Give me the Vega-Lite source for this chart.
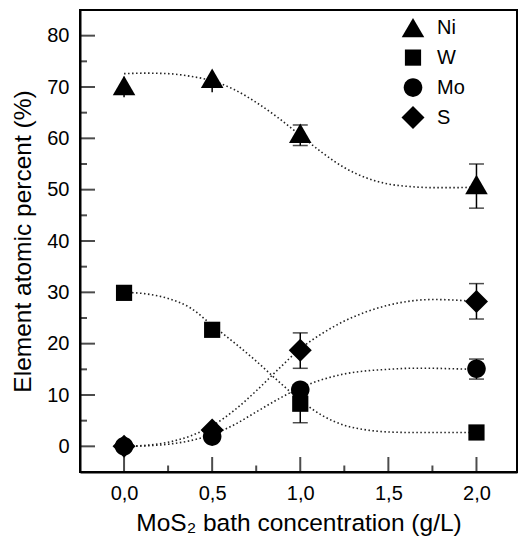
{
  "$schema": "https://vega.github.io/schema/vega-lite/v6.json",
  "width": 437,
  "height": 462,
  "autosize": {"type": "none"},
  "padding": {"left": 80, "top": 10, "right": 1, "bottom": 69},
  "background": "white",
  "config": {
    "view": {"stroke": "black", "strokeWidth": 2},
    "font": "Liberation Sans",
    "axis": {
      "domainColor": "black", "domainWidth": 2,
      "tickColor": "black", "tickWidth": 2,
      "labelColor": "black", "titleColor": "black",
      "labelFontSize": 20, "titleFontSize": 24.5,
      "titleFontWeight": "normal", "grid": false
    }
  },
  "resolve": {"axis": {"x": "independent", "y": "independent"}},
  "datasets": {
    "pts": [
      {"el": "Ni", "x": 0, "y": 70.3, "lo": 68.0, "hi": 72.0},
      {"el": "Ni", "x": 0.5, "y": 71.7, "lo": 69.0, "hi": 73.0},
      {"el": "Ni", "x": 1, "y": 61.0, "lo": 58.6, "hi": 62.6},
      {"el": "Ni", "x": 2, "y": 51.0, "lo": 46.4, "hi": 55.0},
      {"el": "W", "x": 0, "y": 29.9},
      {"el": "W", "x": 0.5, "y": 22.7},
      {"el": "W", "x": 1, "y": 8.3, "lo": 4.6, "hi": 11.5},
      {"el": "W", "x": 2, "y": 2.7},
      {"el": "Mo", "x": 0, "y": 0},
      {"el": "Mo", "x": 0.5, "y": 1.9},
      {"el": "Mo", "x": 1, "y": 11.0, "lo": 10.0, "hi": 12.0},
      {"el": "Mo", "x": 2, "y": 15.1, "lo": 13.1, "hi": 17.0},
      {"el": "S", "x": 0, "y": 0},
      {"el": "S", "x": 0.5, "y": 3.2},
      {"el": "S", "x": 1, "y": 18.7, "lo": 15.2, "hi": 22.1},
      {"el": "S", "x": 2, "y": 28.2, "lo": 24.8, "hi": 31.7}
    ],
    "curves": [
      {"el": "Ni", "x": 0, "y": 72.6}, {"el": "Ni", "x": 0.125, "y": 72.7}, {"el": "Ni", "x": 0.25, "y": 72.6},
      {"el": "Ni", "x": 0.375, "y": 72.1}, {"el": "Ni", "x": 0.5, "y": 71.2}, {"el": "Ni", "x": 0.625, "y": 69.5},
      {"el": "Ni", "x": 0.75, "y": 67.0}, {"el": "Ni", "x": 0.875, "y": 64.0}, {"el": "Ni", "x": 1.0, "y": 60.6},
      {"el": "Ni", "x": 1.125, "y": 57.2}, {"el": "Ni", "x": 1.25, "y": 54.3}, {"el": "Ni", "x": 1.375, "y": 52.3},
      {"el": "Ni", "x": 1.5, "y": 51.1}, {"el": "Ni", "x": 1.625, "y": 50.6}, {"el": "Ni", "x": 1.75, "y": 50.4},
      {"el": "Ni", "x": 1.875, "y": 50.4}, {"el": "Ni", "x": 2.0, "y": 50.5},
      {"el": "W", "x": 0, "y": 30.0}, {"el": "W", "x": 0.125, "y": 29.7}, {"el": "W", "x": 0.25, "y": 28.8},
      {"el": "W", "x": 0.375, "y": 27.0}, {"el": "W", "x": 0.5, "y": 23.6}, {"el": "W", "x": 0.625, "y": 20.2},
      {"el": "W", "x": 0.75, "y": 16.6}, {"el": "W", "x": 0.875, "y": 12.7}, {"el": "W", "x": 1.0, "y": 9.0},
      {"el": "W", "x": 1.125, "y": 6.0}, {"el": "W", "x": 1.25, "y": 4.1}, {"el": "W", "x": 1.375, "y": 3.2},
      {"el": "W", "x": 1.5, "y": 2.8}, {"el": "W", "x": 1.625, "y": 2.7}, {"el": "W", "x": 1.75, "y": 2.7},
      {"el": "W", "x": 1.875, "y": 2.7}, {"el": "W", "x": 2.0, "y": 2.7},
      {"el": "Mo", "x": 0, "y": 0}, {"el": "Mo", "x": 0.125, "y": 0.1}, {"el": "Mo", "x": 0.25, "y": 0.4},
      {"el": "Mo", "x": 0.375, "y": 1.1}, {"el": "Mo", "x": 0.5, "y": 2.3}, {"el": "Mo", "x": 0.625, "y": 4.2},
      {"el": "Mo", "x": 0.75, "y": 6.7}, {"el": "Mo", "x": 0.875, "y": 9.2}, {"el": "Mo", "x": 1.0, "y": 11.4},
      {"el": "Mo", "x": 1.125, "y": 13.0}, {"el": "Mo", "x": 1.25, "y": 14.1}, {"el": "Mo", "x": 1.375, "y": 14.7},
      {"el": "Mo", "x": 1.5, "y": 15.0}, {"el": "Mo", "x": 1.625, "y": 15.2}, {"el": "Mo", "x": 1.75, "y": 15.2},
      {"el": "Mo", "x": 1.875, "y": 15.1}, {"el": "Mo", "x": 2.0, "y": 15.0},
      {"el": "S", "x": 0, "y": 0}, {"el": "S", "x": 0.125, "y": 0.2}, {"el": "S", "x": 0.25, "y": 0.8},
      {"el": "S", "x": 0.375, "y": 2.0}, {"el": "S", "x": 0.5, "y": 4.0}, {"el": "S", "x": 0.625, "y": 7.0},
      {"el": "S", "x": 0.75, "y": 10.8}, {"el": "S", "x": 0.875, "y": 15.0}, {"el": "S", "x": 1.0, "y": 19.0},
      {"el": "S", "x": 1.125, "y": 22.0}, {"el": "S", "x": 1.25, "y": 24.4}, {"el": "S", "x": 1.375, "y": 26.2},
      {"el": "S", "x": 1.5, "y": 27.5}, {"el": "S", "x": 1.625, "y": 28.3}, {"el": "S", "x": 1.75, "y": 28.6},
      {"el": "S", "x": 1.875, "y": 28.5}, {"el": "S", "x": 2.0, "y": 28.2}
    ],
    "yticks": [
      {"v": 0}, {"v": 5}, {"v": 10}, {"v": 15}, {"v": 20}, {"v": 25}, {"v": 30}, {"v": 35}, {"v": 40},
      {"v": 45}, {"v": 50}, {"v": 55}, {"v": 60}, {"v": 65}, {"v": 70}, {"v": 75}, {"v": 80}
    ],
    "xticks": [
      {"v": 0}, {"v": 0.25}, {"v": 0.5}, {"v": 0.75}, {"v": 1}, {"v": 1.25}, {"v": 1.5}, {"v": 1.75}, {"v": 2}
    ]
  },
  "layer": [
    {
      "data": {"name": "curves"},
      "mark": {"type": "line", "interpolate": "monotone", "strokeDash": [1.5, 2.5], "strokeWidth": 1.6, "color": "#222"},
      "encoding": {
        "x": {
          "field": "x", "type": "quantitative",
          "scale": {"domain": [-0.25, 2.23], "nice": false, "zero": false},
          "axis": {
            "orient": "bottom",
            "title": "MoS₂ bath concentration (g/L)",
            "values": [0, 0.5, 1, 1.5, 2],
            "labelExpr": "replace(format(datum.value, '.1f'), '.', ',')",
            "tickSize": 0,
            "labelPadding": 11,
            "titlePadding": 8
          }
        },
        "y": {
          "field": "y", "type": "quantitative",
          "scale": {"domain": [-5, 85], "nice": false, "zero": false},
          "axis": {
            "orient": "left",
            "title": "Element atomic percent (%)",
            "values": [0, 10, 20, 30, 40, 50, 60, 70, 80],
            "tickSize": 0,
            "labelPadding": 11,
            "titlePadding": 11
          }
        },
        "detail": {"field": "el"}
      }
    },
    {
      "data": {"name": "yticks"},
      "transform": [{"filter": "datum.v % 10 === 0"}],
      "mark": {"type": "tick", "orient": "horizontal", "size": 30, "thickness": 2, "color": "black", "clip": true},
      "encoding": {
        "x": {"datum": -0.25, "type": "quantitative", "axis": null},
        "y": {"field": "v", "type": "quantitative", "axis": null}
      }
    },
    {
      "data": {"name": "yticks"},
      "transform": [{"filter": "datum.v % 10 !== 0"}],
      "mark": {"type": "tick", "orient": "horizontal", "size": 14, "thickness": 2, "color": "black", "clip": true},
      "encoding": {
        "x": {"datum": -0.25, "type": "quantitative", "axis": null},
        "y": {"field": "v", "type": "quantitative", "axis": null}
      }
    },
    {
      "data": {"name": "xticks"},
      "transform": [{"filter": "(datum.v * 2) % 1 === 0"}],
      "mark": {"type": "tick", "orient": "vertical", "size": 30, "thickness": 2, "color": "black", "clip": true},
      "encoding": {
        "x": {"field": "v", "type": "quantitative", "axis": null},
        "y": {"datum": -5, "type": "quantitative", "axis": null}
      }
    },
    {
      "data": {"name": "xticks"},
      "transform": [{"filter": "(datum.v * 2) % 1 !== 0"}],
      "mark": {"type": "tick", "orient": "vertical", "size": 13, "thickness": 2, "color": "black", "clip": true},
      "encoding": {
        "x": {"field": "v", "type": "quantitative", "axis": null},
        "y": {"datum": -5, "type": "quantitative", "axis": null}
      }
    },
    {
      "data": {"name": "pts"},
      "transform": [{"filter": "isValid(datum.lo)"}],
      "mark": {"type": "rule", "strokeWidth": 1.5, "color": "black"},
      "encoding": {
        "x": {"field": "x", "type": "quantitative", "axis": null},
        "y": {"field": "lo", "type": "quantitative", "axis": null},
        "y2": {"field": "hi"}
      }
    },
    {
      "data": {"name": "pts"},
      "transform": [{"filter": "isValid(datum.lo) && datum.x >= 1"}],
      "mark": {"type": "tick", "orient": "horizontal", "size": 15, "thickness": 1.5, "color": "black"},
      "encoding": {
        "x": {"field": "x", "type": "quantitative", "axis": null},
        "y": {"field": "lo", "type": "quantitative", "axis": null}
      }
    },
    {
      "data": {"name": "pts"},
      "transform": [{"filter": "isValid(datum.lo) && datum.x >= 1"}],
      "mark": {"type": "tick", "orient": "horizontal", "size": 15, "thickness": 1.5, "color": "black"},
      "encoding": {
        "x": {"field": "x", "type": "quantitative", "axis": null},
        "y": {"field": "hi", "type": "quantitative", "axis": null}
      }
    },
    {
      "data": {"name": "pts"},
      "mark": {"type": "point", "filled": true, "color": "black", "opacity": 1, "size": 576},
      "encoding": {
        "x": {"field": "x", "type": "quantitative", "axis": null},
        "y": {"field": "y", "type": "quantitative", "axis": null},
        "shape": {
          "field": "el", "type": "nominal",
          "scale": {
            "domain": ["Ni", "W", "Mo", "S"],
            "range": [
              "M0,-0.81L0.94,0.81L-0.94,0.81Z",
              "M-0.675,-0.675H0.675V0.675H-0.675Z",
              "M0.775,0A0.775,0.775,0,1,1,-0.775,0A0.775,0.775,0,1,1,0.775,0Z",
              "M0,-0.96L0.96,0L0,0.96L-0.96,0Z"
            ]
          },
          "legend": {
            "title": null, "orient": "none", "legendX": 321, "legendY": 5.6,
            "padding": 0, "labelFontSize": 20, "labelColor": "black", "labelOffset": 12,
            "rowPadding": 8, "symbolSize": 576, "symbolFillColor": "black", "symbolStrokeColor": "black",
            "symbolStrokeWidth": 0, "symbolOpacity": 1
          }
        }
      }
    }
  ]
}
